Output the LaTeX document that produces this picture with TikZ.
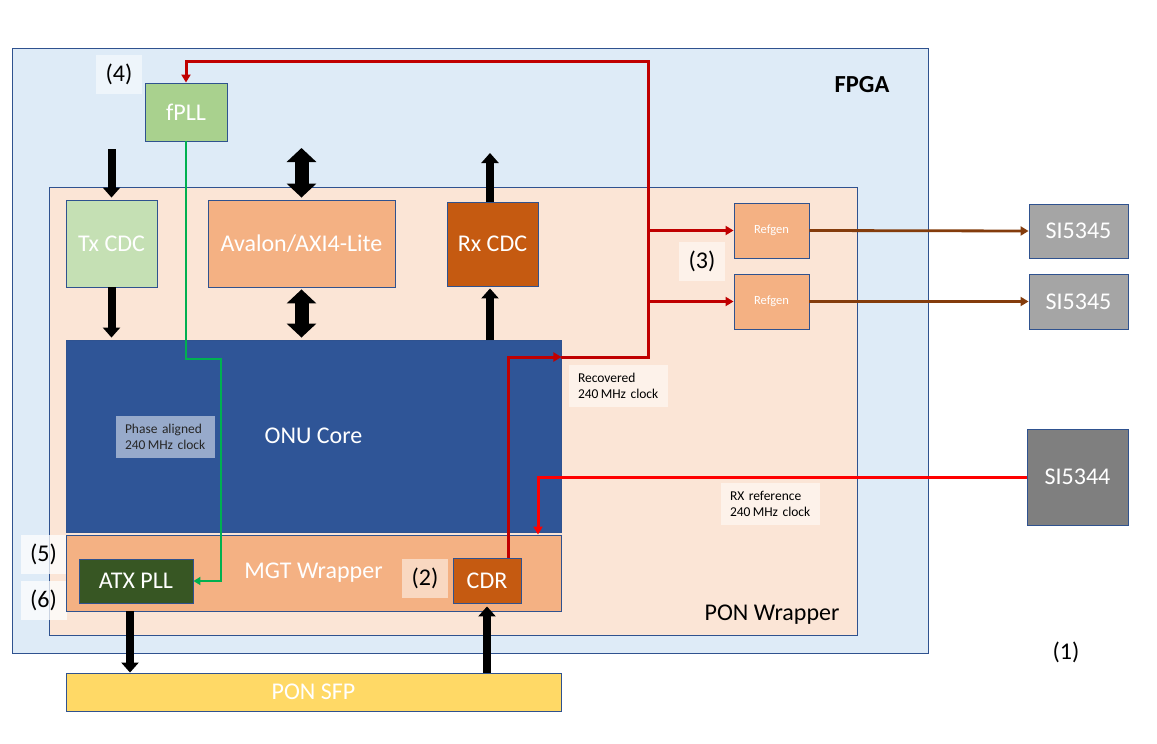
\documentclass[tikz,border=0pt]{standalone}
\usepackage{fontspec}
\setmainfont{Carlito}
\usetikzlibrary{arrows.meta,calc}
\definecolor{fpgabg}{HTML}{DEEBF7}
\definecolor{ponbg}{HTML}{FBE5D6}
\definecolor{bord}{HTML}{2F528F}
\definecolor{fpllc}{HTML}{A9D18E}
\definecolor{txc}{HTML}{C5E0B4}
\definecolor{avc}{HTML}{F4B183}
\definecolor{rxcc}{HTML}{C55A11}
\definecolor{onuc}{HTML}{2F5597}
\definecolor{atxc}{HTML}{375623}
\definecolor{sfpc}{HTML}{FFD966}
\definecolor{si45c}{HTML}{A5A5A5}
\definecolor{si44c}{HTML}{7F7F7F}
\definecolor{dred}{HTML}{C00000}
\definecolor{bred}{HTML}{FF0000}
\definecolor{brn}{HTML}{843C0C}
\definecolor{grn}{HTML}{00B050}
\tikzset{
  box/.style={draw=bord, line width=0.9pt, inner sep=0pt, text=white,
    font=\fontsize{24}{28}\selectfont},
  tag/.style={fill=white, fill opacity=0.5, text opacity=1, inner sep=0pt,
    minimum width=46pt, minimum height=39pt, font=\fontsize{24}{28}\selectfont},
  note/.style={fill=white, fill opacity=0.5, text opacity=1, inner xsep=9pt, inner ysep=0pt,
    text width=81pt, minimum height=42pt, align=left, font=\fontsize{13.5}{16}\selectfont},
  redline/.style={dred, line width=3pt},
  rtip/.style={-{Triangle[length=8pt,width=9pt]}},
  blk/.style={line width=8pt, -{Triangle[length=10pt,width=17pt]}},
  dblk/.style={line width=14pt, {Triangle[length=14pt,width=29pt]}-{Triangle[length=14pt,width=29pt]}},
}
\begin{document}
\begin{tikzpicture}[x=1pt,y=-1pt]
\useasboundingbox[fill=white] (0,0) rectangle (1157,744);
% containers
\node[box, fill=fpgabg, minimum width=916pt, minimum height=605pt] (fpga) at (470,350.5) {};
\node[font=\bfseries\fontsize{24.5}{28}\selectfont] (fpgalbl) at (862,85) {FPGA};
\node[box, fill=ponbg, minimum width=808pt, minimum height=448pt] (pon) at (453,411) {};
\node[font=\fontsize{24}{28}\selectfont] (ponlbl) at (772,615) {PON Wrapper};
% tags
\node[tag] (t4) at (119,74.5) {(4)};
\node[tag, fill opacity=0.75] (t5) at (43.5,554) {(5)};
\node[tag, fill opacity=0.75] (t6) at (43.5,600) {(6)};
\node[tag] (t3) at (702,261.5) {(3)};
\node[font=\fontsize{24}{28}\selectfont] (t1) at (1066,652) {(1)};
% blocks
\node[box, fill=fpllc, minimum width=82pt, minimum height=58pt] (fpll) at (186,112) {fPLL};
\node[box, fill=txc, minimum width=91pt, minimum height=87pt] (tx) at (111.5,243.5) {Tx CDC};
\node[box, fill=avc, minimum width=187pt, minimum height=87pt] (av) at (301.5,243.5) {Avalon/AXI4-Lite};
\node[box, fill=rxcc, minimum width=91pt, minimum height=84pt] (rxc) at (492.5,244) {Rx CDC};
\node[box, fill=onuc, minimum width=495pt, minimum height=192pt] (onu) at (313.5,436) {ONU Core};
\node[box, fill=avc, minimum width=495pt, minimum height=76pt] (mgt) at (313.5,573) {MGT Wrapper};
\node[box, fill=atxc, minimum width=114pt, minimum height=44pt] (atx) at (136,581) {ATX PLL};
\node[tag] (t2) at (425,578.5) {(2)};
\node[box, fill=rxcc, minimum width=68pt, minimum height=45pt] (cdr) at (487,580.5) {CDR};
\node[box, fill=sfpc, minimum width=495pt, minimum height=38pt] (sfp) at (313.5,692) {PON SFP};
\node[box, fill=avc, minimum width=75pt, minimum height=55pt, font=\fontsize{12.5}{14}\selectfont] (rg1) at (771.5,230.5) {Refgen};
\node[box, fill=avc, minimum width=75pt, minimum height=55pt, font=\fontsize{12.5}{14}\selectfont] (rg2) at (771.5,301.5) {Refgen};
\node[box, fill=si45c, minimum width=99pt, minimum height=54pt] (si1) at (1078.5,231) {SI5345};
\node[box, fill=si45c, minimum width=99pt, minimum height=55pt] (si2) at (1078.5,301.5) {SI5345};
\node[box, fill=si44c, minimum width=101pt, minimum height=96pt] (si44) at (1077.5,477) {SI5344};
% notes
\node[note] (nrec) at (618.5,386) {Recovered\\240\,MHz clock};
\node[note] (nrx) at (770.5,503.5) {RX reference\\240\,MHz clock};
\node[note, text=black!85] (nph) at (165.5,437) {Phase aligned\\240\,MHz clock};
% coordinates
\coordinate (rc) at (508,357);
\coordinate (tr) at (648,61);
\coordinate (g1) at (221,359);
\coordinate (sr) at (538,477);
\coordinate (txin) at (111.5,149);
\coordinate (avin) at (301.5,148);
\coordinate (rxo) at (490,153);
\coordinate (a1) at (130,611);
% red recovered clock
\draw[redline, rtip] (cdr.north -| rc) -- (rc) -- (onu.east |- rc);
\draw[redline, rtip, line join=miter] (onu.east |- rc) -| (tr) -| (fpll.north);
\draw[redline, rtip] (rg1.west -| tr) -- (rg1.west);
\draw[redline, rtip] (rg2.west -| tr) -- (rg2.west);
% SI5344 reference
\draw[bred, line width=3pt, rtip] (si44.west) -- (sr) -- (sr |- mgt.north);
% refgen outputs
\draw[brn, line width=2.8pt, -{Triangle[length=8pt,width=9pt]}] (rg1.east) -- (si1.west);
\draw[brn, line width=2.8pt, -{Triangle[length=8pt,width=9pt]}] (rg2.east) -- (si2.west);
% green phase aligned clock
\draw[grn, line width=2.4pt, -{Triangle[length=7pt,width=8pt]}] (fpll.south) |- (g1) |- (atx.east);
% black block arrows
\draw[blk, shorten >=2pt] (txin) -- (tx.north);
\draw[blk, shorten >=2pt] (tx.south) -- (tx.south |- onu.north);
\draw[dblk, shorten >=2pt] (avin) -- (av.north);
\draw[dblk, shorten <=2pt, shorten >=2pt] (av.south) -- (av.south |- onu.north);
\draw[blk] (rxc.north -| rxo) -- (rxo);
\draw[blk, shorten >=2pt] (onu.north -| rxo) -- (rxc.south -| rxo);
\draw[blk] (a1) -- (a1 |- sfp.north);
\draw[blk, shorten >=3pt] (sfp.north -| cdr) -- (cdr.south);
\end{tikzpicture}
\end{document}
